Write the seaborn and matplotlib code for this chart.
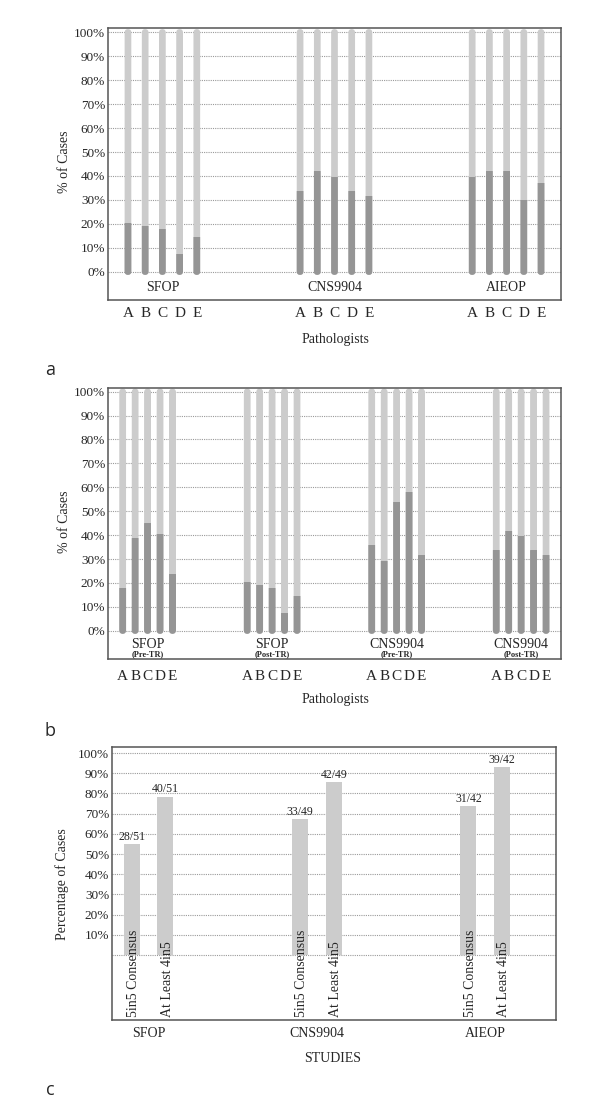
import matplotlib
matplotlib.use('Agg')
import matplotlib.pyplot as plt
from matplotlib.patches import Rectangle
import pandas as pd
import seaborn as sns

# ---- data ----
pathologists = ['A', 'B', 'C', 'D', 'E']

# panel a: % of cases per pathologist (dark part)
studies_a = ['SFOP', 'CNS9904', 'AIEOP']
sfop_a = [20.5, 19.3, 17.8, 7.5, 14.6]
cns_a = [33.6, 41.9, 39.6, 33.6, 31.5]
aieop_a = [39.6, 41.9, 41.9, 30.0, 37.2]

# panel b: before / after the teaching round
studies_b = ['SFOP', 'SFOP', 'CNS9904', 'CNS9904']
phase_b = ['(Pre-TR)', '(Post-TR)', '(Pre-TR)', '(Post-TR)']
sfop_pre = [17.9, 38.6, 44.9, 40.6, 23.9]
sfop_post = [20.5, 19.3, 17.8, 7.5, 14.6]
cns_pre = [35.8, 29.3, 53.9, 58.2, 31.5]
cns_post = [33.6, 41.9, 39.6, 33.6, 31.5]

# panel c: consensus
studies_c = ['SFOP', 'CNS9904', 'AIEOP']
criteria = ['5in5 Consensus', 'At Least 4in5']
agreed = [28, 40, 33, 42, 31, 39]
cases = [51, 51, 49, 49, 42, 42]

LIGHT = '#cccccc'
DARK = '#959595'
GRID = '#9a9a9a'
FRAME = '#555555'

sns.set_style('white')
plt.rcParams['font.family'] = ['Liberation Serif', 'DejaVu Serif']


def make_df(groups, step):
    rows = []
    for g, vals in enumerate(groups):
        for i, v in enumerate(vals):
            rows.append({'pos': step * g + i, 'letter': pathologists[i], 'value': v, 'full': 100})
    return pd.DataFrame(rows)


def rounded_bars(ax, df, col, color, lw, clip=False):
    # thin bars with a thick round-joined edge -> bars with rounded ends
    n0 = len(ax.patches)
    sns.barplot(data=df, x='pos', y=col, native_scale=True, orient='v', width=0.05,
                color=color, saturation=1, edgecolor=color, linewidth=lw,
                errorbar=None, ax=ax)
    for p in ax.patches[n0:]:
        p.set_joinstyle('round')
        p.set_snap(False)
        p.set_antialiased(True)
        if clip:
            box = Rectangle((p.get_x() - 1, -50), p.get_width() + 2, p.get_height() + 50,
                            transform=ax.transData)
            p.set_clip_path(box)


def style_axes(ax, yticks, ylabels):
    ax.set_yticks(yticks)
    ax.set_yticklabels(ylabels, fontsize=9.5)
    ax.yaxis.grid(True, linestyle=(0, (1, 1)), color=GRID, linewidth=0.8)
    ax.xaxis.grid(False)
    ax.set_axisbelow(True)
    ax.tick_params(length=0)
    ax.tick_params(axis='y', pad=2)
    for s in ax.spines.values():
        s.set_color(FRAME)
        s.set_linewidth(1.1)
    ax.set_xlabel('')
    ax.set_ylabel('')


def fx(px):
    return px / 600


def fy(py):
    return 1 - py / 1117


fig = plt.figure(figsize=(6, 11.17), dpi=100)

# ---- panel a ----
ax_a = fig.add_axes([fx(108), fy(300), fx(453), 272 / 1117])
df_a = make_df([sfop_a, cns_a, aieop_a], 10)
rounded_bars(ax_a, df_a, 'full', LIGHT, 4.2)
rounded_bars(ax_a, df_a, 'value', DARK, 4.2, clip=True)
style_axes(ax_a, range(0, 101, 10), [f'{v}%' for v in range(0, 101, 10)])
ax_a.set_ylim(-11.7, 101.7)
ax_a.set_xlim(-1.16, 25.16)
ax_a.set_xticks(df_a['pos'])
ax_a.set_xticklabels(df_a['letter'], fontsize=11)
ax_a.tick_params(axis='x', pad=5)
for g, name in enumerate(studies_a):
    ax_a.text(10 * g + 2, -6.3, name, ha='center', va='center', fontsize=10)

# ---- panel b ----
ax_b = fig.add_axes([fx(108), fy(659), fx(453), 271 / 1117])
df_b = make_df([sfop_pre, sfop_post, cns_pre, cns_post], 10)
rounded_bars(ax_b, df_b, 'full', LIGHT, 4.4)
rounded_bars(ax_b, df_b, 'value', DARK, 4.4, clip=True)
style_axes(ax_b, range(0, 101, 10), [f'{v}%' for v in range(0, 101, 10)])
ax_b.set_ylim(-11.8, 101.5)
ax_b.set_xlim(-1.18, 35.2)
ax_b.set_xticks(df_b['pos'])
ax_b.set_xticklabels(df_b['letter'], fontsize=11)
ax_b.tick_params(axis='x', pad=8)
for g, (name, phase) in enumerate(zip(studies_b, phase_b)):
    ax_b.text(10 * g + 2, -5.6, name, ha='center', va='center', fontsize=10)
    ax_b.text(10 * g + 2, -9.9, phase, ha='center', va='center', fontsize=6, fontweight='bold')

# ---- panel c ----
ax_c = fig.add_axes([fx(112), fy(1020), fx(444), 273 / 1117])
rows = []
for k, (a, t) in enumerate(zip(agreed, cases)):
    g, i = divmod(k, 2)
    rows.append({'pos': 5 * g + i, 'study': studies_c[g], 'crit': criteria[i],
                 'pct': 100 * a / t, 'lab': f'{a}/{t}'})
df_c = pd.DataFrame(rows)
sns.barplot(data=df_c, x='pos', y='pct', native_scale=True, orient='v', width=0.475,
            color=LIGHT, saturation=1, linewidth=0, errorbar=None, ax=ax_c)
style_axes(ax_c, range(0, 101, 10), [''] + [f'{v}%' for v in range(10, 101, 10)])
ax_c.set_ylim(-32.2, 103)
ax_c.set_xlim(-0.585, 12.6)
ax_c.set_xticks([0.5, 5.5, 10.5])
ax_c.set_xticklabels(studies_c, fontsize=10)
ax_c.tick_params(axis='x', pad=5)
for _, r in df_c.iterrows():
    ax_c.text(r['pos'], r['pct'] + 0.6, r['lab'], ha='center', va='bottom', fontsize=8.5)
    ax_c.text(r['pos'] + 0.05, -30.7, r['crit'], ha='center', va='bottom', rotation=90, fontsize=10)

# ---- axis titles and panel letters ----
fig.text(fx(65), fy(162), '% of Cases', rotation=90, ha='center', va='center', fontsize=10)
fig.text(fx(65), fy(522), '% of Cases', rotation=90, ha='center', va='center', fontsize=10)
fig.text(fx(62), fy(884), 'Percentage of Cases', rotation=90, ha='center', va='center', fontsize=10)
fig.text(fx(335), fy(339), 'Pathologists', ha='center', va='center', fontsize=10)
fig.text(fx(335), fy(700), 'Pathologists', ha='center', va='center', fontsize=10)
fig.text(fx(333), fy(1058), 'STUDIES', ha='center', va='center', fontsize=10)
for letter, py in [('a', 370), ('b', 731), ('c', 1090)]:
    fig.text(fx(50), fy(py), letter, ha='center', va='center', fontsize=13,
             family=['Open Sans', 'DejaVu Sans'])

fig.savefig('out.png', dpi=100)
